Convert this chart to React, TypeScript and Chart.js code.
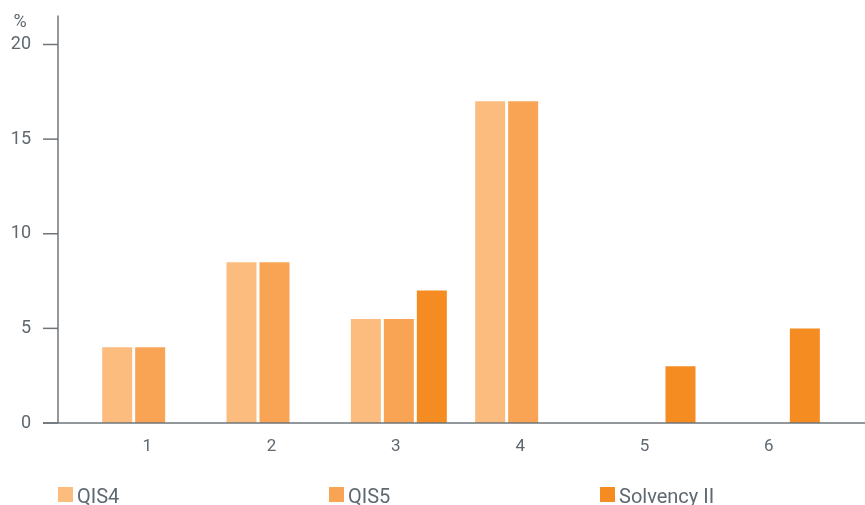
import React, { useEffect, useRef } from "react";
import { Chart, registerables } from "chart.js";

Chart.register(...registerables);

const categories = ["1", "2", "3", "4", "5", "6"];
const qis4 = [4, 8.5, 5.5, 17, null, null];
const qis5 = [4, 8.5, 5.5, 17, null, null];
const solvency2 = [null, null, 7, null, 3, 5];
const seriesNames = ["QIS4", "QIS5", "Solvency II"];
const seriesColors = ["#FBBC7E", "#F8A454", "#F48C21"];
const yTicks = [0, 5, 10, 15, 20];
const yUnit = "%";

const AXIS = "#6d747a";
const TEXT = "#5f6870";
const FONT = "Roboto, 'Liberation Sans', sans-serif";

const axisPlugin = {
  id: "customAxes",
  afterDatasetsDraw(chart: any) {
    const { ctx, chartArea, scales } = chart;
    const y = scales.y;
    const axisX = chartArea.left - 30;
    ctx.save();
    ctx.strokeStyle = AXIS;
    ctx.lineWidth = 1.5;
    ctx.beginPath();
    ctx.moveTo(axisX, chartArea.top - 29);
    ctx.lineTo(axisX, chartArea.bottom);
    ctx.stroke();
    y.ticks.forEach((t: any) => {
      const py = y.getPixelForValue(t.value);
      ctx.beginPath();
      ctx.moveTo(axisX - 15, py);
      ctx.lineTo(axisX, py);
      ctx.stroke();
    });
    ctx.beginPath();
    ctx.moveTo(axisX - 15, chartArea.bottom);
    ctx.lineTo(chart.width, chartArea.bottom);
    ctx.stroke();
    ctx.fillStyle = TEXT;
    ctx.font = `18px ${FONT}`;
    ctx.textAlign = "center";
    ctx.textBaseline = "middle";
    ctx.fillText(yUnit, 20, chartArea.top - 22);
    ctx.font = `20px ${FONT}`;
    ctx.textAlign = "left";
    ctx.textBaseline = "alphabetic";
    const legendY = chart.height - 18;
    seriesNames.forEach((name, i) => {
      const lx = axisX + i * 271;
      ctx.fillStyle = seriesColors[i];
      ctx.fillRect(lx, legendY, 15, 15);
      ctx.fillStyle = TEXT;
      ctx.fillText(name, lx + 19, legendY + 16);
    });
    ctx.restore();
  },
};

export default function App() {
  const ref = useRef<HTMLCanvasElement | null>(null);
  useEffect(() => {
    document.body.style.margin = "0";
    const canvas = ref.current;
    if (!canvas) return;
    const datasets = [qis4, qis5, solvency2].map((d, i) => ({
      label: seriesNames[i],
      data: d,
      backgroundColor: seriesColors[i],
      borderWidth: 0,
      categoryPercentage: 99 / 124.33,
      barPercentage: 30 / 33,
    }));
    const chart = new Chart(canvas, {
      type: "bar",
      data: { labels: categories, datasets },
      plugins: [axisPlugin],
      options: {
        responsive: false,
        animation: false,
        layout: { padding: { top: 44.5, right: 31, left: 0, bottom: 0 } },
        plugins: { legend: { display: false }, tooltip: { enabled: false }, title: { display: false } },
        scales: {
          x: {
            grid: { display: false, drawTicks: false },
            border: { display: false },
            ticks: { color: TEXT, font: { size: 17, family: FONT }, padding: 14, labelOffset: -3 },
            afterFit: (s: any) => { s.height = 82; s.paddingLeft = 0; s.paddingRight = 0; },
          },
          y: {
            min: 0,
            max: 20,
            grid: { display: false, drawTicks: false },
            border: { display: false },
            afterBuildTicks: (s: any) => { s.ticks = yTicks.map((v) => ({ value: v })); },
            ticks: { color: TEXT, font: { size: 18, family: FONT }, padding: 57 },
            afterFit: (s: any) => { s.width = 88; s.paddingTop = 0; s.paddingBottom = 0; },
          },
        },
      },
    });
    return () => chart.destroy();
  }, []);
  return (
    <div style={{ width: 865, height: 505 }}>
      <canvas ref={ref} width={865} height={505} style={{ display: "block" }} />
    </div>
  );
}
